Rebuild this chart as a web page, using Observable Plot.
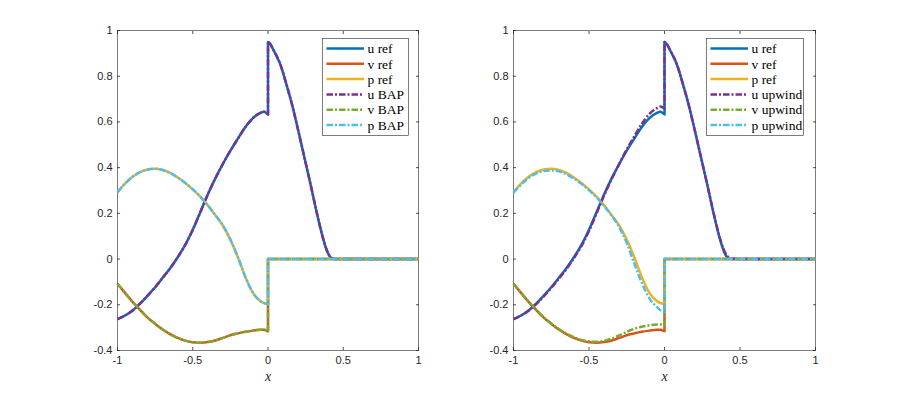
<!DOCTYPE html>
<html>
<head>
<meta charset="utf-8">
<script src="https://cdn.jsdelivr.net/npm/d3@7"></script>
<script src="https://cdn.jsdelivr.net/npm/@observablehq/plot@0.6"></script>
<style>
  html, body { margin: 0; padding: 0; background: #fff; }
  #wrap { position: relative; width: 900px; height: 393px; overflow: hidden; }
</style>
</head>
<body>
<div id="wrap"></div>
<script>
// ---------- data ----------
const xTicks = [-1, -0.5, 0, 0.5, 1];
const yTicks = [-0.4, -0.2, 0, 0.2, 0.4, 0.6, 0.8, 1];
const xTickLabels = ["-1", "-0.5", "0", "0.5", "1"];
const yTickLabels = ["-0.4", "-0.2", "0", "0.2", "0.4", "0.6", "0.8", "1"];

// x grid left of the discontinuity (x <= 0)
const xL = [-1, -0.95, -0.9, -0.85, -0.8, -0.75, -0.7, -0.65, -0.6, -0.55, -0.5, -0.45, -0.4, -0.35, -0.3, -0.25, -0.2, -0.15, -0.1, -0.05, -0.025, 0];
// x grid right of the discontinuity (x >= 0) for u
const xR = [0, 0.04, 0.08, 0.12, 0.16, 0.2, 0.24, 0.28, 0.32, 0.36, 0.39, 0.41, 0.43, 0.45, 1];
// x grid right of the discontinuity for v, p (zero state)
const xZ = [0, 1];
const zR = [0, 0];

// reference solution
const uRefL = [-0.263, -0.247, -0.225, -0.195, -0.16, -0.123, -0.082, -0.04, 0.008, 0.062, 0.128, 0.205, 0.283, 0.353, 0.416, 0.474, 0.527, 0.578, 0.617, 0.64, 0.645, 0.633];
const uRefR = [0.95, 0.91, 0.855, 0.77, 0.675, 0.565, 0.45, 0.335, 0.215, 0.105, 0.04, 0.012, 0.002, 0, 0];
const vRefL = [-0.108, -0.148, -0.187, -0.222, -0.256, -0.283, -0.308, -0.328, -0.345, -0.357, -0.364, -0.366, -0.363, -0.356, -0.345, -0.333, -0.325, -0.318, -0.313, -0.309, -0.309, -0.316];
const pRefL = [0.293, 0.33, 0.36, 0.38, 0.392, 0.395, 0.39, 0.377, 0.357, 0.333, 0.305, 0.273, 0.235, 0.192, 0.147, 0.085, 0.008, -0.079, -0.148, -0.184, -0.193, -0.197];

// BAP scheme (matches reference)
const uBapL = [-0.263, -0.247, -0.225, -0.195, -0.16, -0.123, -0.082, -0.04, 0.008, 0.062, 0.128, 0.205, 0.283, 0.353, 0.416, 0.474, 0.527, 0.578, 0.617, 0.64, 0.645, 0.633];
const uBapR = [0.95, 0.91, 0.855, 0.77, 0.675, 0.565, 0.45, 0.335, 0.215, 0.105, 0.04, 0.012, 0.002, 0, 0];
const vBapL = [-0.108, -0.148, -0.187, -0.222, -0.256, -0.283, -0.308, -0.328, -0.345, -0.357, -0.364, -0.366, -0.363, -0.356, -0.345, -0.333, -0.325, -0.318, -0.313, -0.309, -0.309, -0.316];
const pBapL = [0.293, 0.33, 0.36, 0.38, 0.392, 0.395, 0.39, 0.377, 0.357, 0.333, 0.305, 0.273, 0.235, 0.192, 0.147, 0.085, 0.008, -0.079, -0.148, -0.184, -0.193, -0.197];

// upwind scheme
const uUpL = [-0.263, -0.247, -0.226, -0.197, -0.163, -0.126, -0.086, -0.044, 0.004, 0.057, 0.123, 0.2, 0.279, 0.35, 0.416, 0.48, 0.537, 0.592, 0.635, 0.66, 0.667, 0.66];
const uUpR = [0.95, 0.91, 0.855, 0.77, 0.675, 0.565, 0.45, 0.335, 0.217, 0.108, 0.045, 0.018, 0.006, 0.001, 0];
const vUpL = [-0.108, -0.148, -0.187, -0.222, -0.255, -0.282, -0.306, -0.326, -0.342, -0.354, -0.36, -0.362, -0.358, -0.348, -0.334, -0.318, -0.305, -0.296, -0.29, -0.286, -0.286, -0.29];
const pUpL = [0.29, 0.325, 0.355, 0.374, 0.385, 0.388, 0.384, 0.371, 0.352, 0.329, 0.301, 0.27, 0.232, 0.19, 0.14, 0.07, -0.02, -0.105, -0.172, -0.21, -0.225, -0.232];

const namesLeft = ["u ref", "v ref", "p ref", "u BAP", "v BAP", "p BAP"];
const namesRight = ["u ref", "v ref", "p ref", "u upwind", "v upwind", "p upwind"];
const colors = ["#0072BD", "#D95319", "#EDB120", "#7E2F8E", "#77AC30", "#4DBEEE"];
const dashed = [false, false, false, true, true, true];

// ---------- helpers ----------
const DASH = "6.5,2,2,2";
const LW = 2.5;
function pts(xs, ys) { return xs.map((x, i) => ({x, y: ys[i]})); }
function seriesU(left, right) { return pts(xL, left).concat(pts(xR, right)); }
function seriesZ(left) { return pts(xL, left).concat(pts(xZ, zR)); }

function panel(series, opts) {
  const marks = [];
  series.forEach((data, i) => {
    marks.push(Plot.line(data, {
      x: "x", y: "y", stroke: colors[i], strokeWidth: LW,
      strokeDasharray: dashed[i] ? DASH : null,
      strokeLinecap: "butt", strokeLinejoin: "round", curve: "monotone-x"
    }));
  });
  const fmtX = d => xTickLabels[xTicks.indexOf(d)];
  const fmtY = d => yTickLabels[yTicks.indexOf(d)];
  const blank = () => "";
  const common = {fontSize: 11, fontFamily: "Liberation Sans, Arial, sans-serif", fill: "#262626", stroke: "#262626", label: null};
  return Plot.plot({
    width: 450, height: 393,
    marginLeft: opts.ml, marginRight: opts.mr, marginTop: 30, marginBottom: 43,
    style: {fontFamily: "Liberation Sans, Arial, sans-serif", background: "transparent", overflow: "visible"},
    x: {domain: [-1, 1]},
    y: {domain: [-0.4, 1]},
    marks: [
      Plot.frame({stroke: "#262626", strokeWidth: 0.6}),
      Plot.axisX(xTicks, {...common, anchor: "bottom", tickSize: 0, tickPadding: 6, tickFormat: fmtX}),
      Plot.axisX(xTicks, {...common, anchor: "bottom", tickSize: 3, dy: -3, tickFormat: blank, strokeWidth: 0.8}),
      Plot.axisX(xTicks, {...common, anchor: "top", tickSize: 3, dy: 3, tickFormat: blank, strokeWidth: 0.8}),
      Plot.axisY(yTicks, {...common, anchor: "left", tickSize: 0, tickPadding: 5, tickFormat: fmtY}),
      Plot.axisY(yTicks, {...common, anchor: "left", tickSize: 3, dx: 3, tickFormat: blank, strokeWidth: 0.8}),
      Plot.axisY(yTicks, {...common, anchor: "right", tickSize: 3, dx: -3, tickFormat: blank, strokeWidth: 0.8}),
      ...marks,
      Plot.text(["x"], {frameAnchor: "bottom", dy: 30, text: d => d, fontStyle: "italic",
        fontFamily: "Liberation Serif, Times New Roman, serif", fontSize: 14, fill: "#262626"})
    ]
  });
}

function legend(names, box) {
  const svg = d3.create("svg").attr("width", 900).attr("height", 393)
    .style("position", "absolute").style("left", "0px").style("top", "0px");
  svg.append("rect").attr("x", box.x).attr("y", box.y).attr("width", box.w).attr("height", box.h)
    .attr("fill", "#fff").attr("stroke", "#262626").attr("stroke-width", 0.6);
  names.forEach((n, i) => {
    const cy = box.y + 10 + i * 15.3;
    svg.append("line").attr("x1", box.x + 4).attr("x2", box.x + 41.5).attr("y1", cy).attr("y2", cy)
      .attr("stroke", colors[i]).attr("stroke-width", LW)
      .attr("stroke-dasharray", dashed[i] ? DASH : null);
    svg.append("text").attr("x", box.x + 45).attr("y", cy).attr("dy", "0.35em")
      .attr("font-family", "Liberation Serif, Times New Roman, serif").attr("font-size", 13.5)
      .attr("fill", "#000").text(n);
  });
  return svg.node();
}

// ---------- build ----------
const wrap = document.getElementById("wrap");

const leftSeries = [
  seriesU(uRefL, uRefR), seriesZ(vRefL), seriesZ(pRefL),
  seriesU(uBapL, uBapR), seriesZ(vBapL), seriesZ(pBapL)
];
const rightSeries = [
  seriesU(uRefL, uRefR), seriesZ(vRefL), seriesZ(pRefL),
  seriesU(uUpL, uUpR), seriesZ(vUpL), seriesZ(pUpL)
];

const p1 = panel(leftSeries, {ml: 117, mr: 32});
p1.style.position = "absolute"; p1.style.left = "0px"; p1.style.top = "0px";
wrap.appendChild(p1);

const p2 = panel(rightSeries, {ml: 63, mr: 85});
p2.style.position = "absolute"; p2.style.left = "450px"; p2.style.top = "0px";
wrap.appendChild(p2);

wrap.appendChild(legend(namesLeft, {x: 322.5, y: 38.5, w: 86, h: 97}));
wrap.appendChild(legend(namesRight, {x: 706.5, y: 38.5, w: 97, h: 97}));
</script>
</body>
</html>
